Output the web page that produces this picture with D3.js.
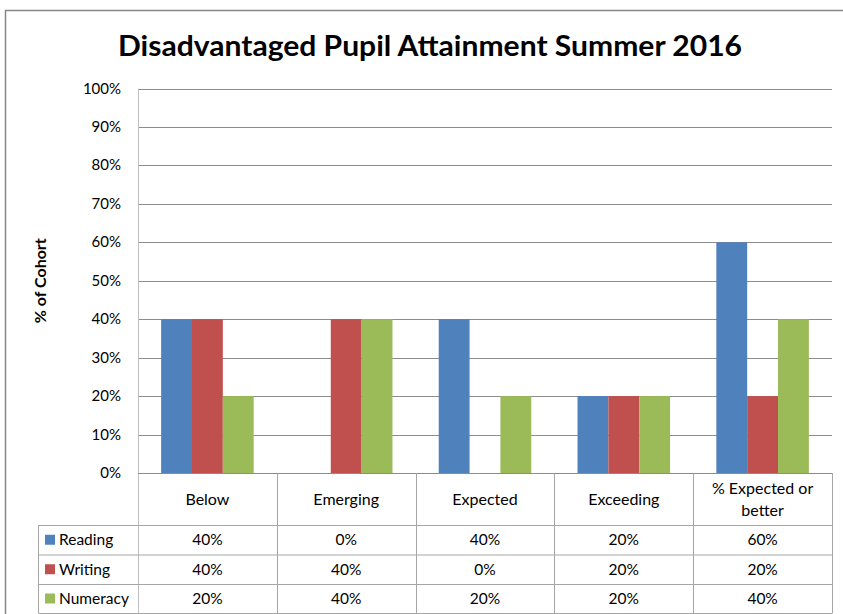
<!DOCTYPE html>
<html>
<head>
<meta charset="utf-8">
<script src="https://cdn.jsdelivr.net/npm/d3@7"></script>
<style>
  body { margin: 0; background: #fff; }
  text { font-family: Lato, "Open Sans", sans-serif; fill: #000; }
</style>
</head>
<body>
<div id="chart"></div>
<script>
const WIDTH = 843;
const HEIGHT = 614;
const PLOT = {left: 138, right: 832, top: 88.5, bottom: 473};

// chart data
const categories = ["Below", "Emerging", "Expected", "Exceeding", "% Expected or better"];
const seriesNames = ["Reading", "Writing", "Numeracy"];
const reading = [40, 0, 40, 20, 60];
const writing = [40, 40, 0, 20, 20];
const numeracy = [20, 40, 20, 20, 40];
const yTicks = [0, 10, 20, 30, 40, 50, 60, 70, 80, 90, 100];
const colors = ["#4F81BD", "#C0504D", "#9BBB59"];

const series = [reading, writing, numeracy];

const svg = d3.select("#chart")
  .append("svg")
    .attr("width", WIDTH)
    .attr("height", HEIGHT);

// outer chart border
svg.append("rect")
  .attr("x", 5.5).attr("y", 10.5)
  .attr("width", 900).attr("height", 700)
  .attr("fill", "none")
  .attr("stroke", "#878787")
  .attr("stroke-width", 1.5);

// title
svg.append("text")
  .attr("x", 430).attr("y", 56)
  .attr("text-anchor", "middle")
  .attr("font-size", 29)
  .attr("font-weight", "bold")
  .attr("textLength", 624)
  .attr("lengthAdjust", "spacingAndGlyphs")
  .text("Disadvantaged Pupil Attainment Summer 2016");

const y = d3.scaleLinear().domain([0, 100]).range([PLOT.bottom, PLOT.top]);
const x0 = d3.scaleBand().domain(categories)
  .range([PLOT.left, PLOT.right])
  .paddingInner(1 / 3).paddingOuter(1 / 6);
const x1 = d3.scaleBand().domain(seriesNames).range([0, x0.bandwidth()]);
const cat = d3.scaleBand().domain(categories).range([PLOT.left, PLOT.right]);

// gridlines
svg.append("g")
  .selectAll("line")
  .data(yTicks.filter(d => d > 0))
  .enter()
  .append("line")
    .attr("x1", PLOT.left).attr("x2", PLOT.right)
    .attr("y1", d => Math.round(y(d)) + 0.5)
    .attr("y2", d => Math.round(y(d)) + 0.5)
    .attr("stroke", "#8C8C8C");

// y tick labels
svg.append("g")
  .selectAll("text")
  .data(yTicks)
  .enter()
  .append("text")
    .attr("x", 121)
    .attr("y", d => y(d) + 5)
    .attr("text-anchor", "end")
    .attr("font-size", 15)
    .text(d => d + "%");

// y axis title
svg.append("text")
  .attr("transform", "translate(46," + ((PLOT.top + PLOT.bottom) / 2) + ") rotate(-90)")
  .attr("text-anchor", "middle")
  .attr("font-size", 16)
  .attr("font-weight", "bold")
  .text("% of Cohort");

// bars
svg.append("g")
  .selectAll("g")
  .data(categories)
  .enter()
  .append("g")
    .attr("transform", d => "translate(" + x0(d) + ",0)")
  .selectAll("rect")
  .data((d, i) => seriesNames.map((s, j) => ({s: s, v: series[j][i], c: colors[j]})))
  .enter()
  .append("rect")
    .attr("x", d => x1(d.s))
    .attr("y", d => y(d.v))
    .attr("width", x1.bandwidth())
    .attr("height", d => y(0) - y(d.v))
    .attr("fill", d => d.c);

// data table
const rowTops = [473, 525, 554.5, 584, 613];
const tableLeft = 38.5;
const grid = svg.append("g").attr("stroke", "#A6A6A6").attr("fill", "none");

// left axis line of the plot running into the table
grid.append("line")
  .attr("x1", PLOT.left + 0.5).attr("x2", PLOT.left + 0.5)
  .attr("y1", PLOT.top).attr("y2", 613)
  .attr("stroke", "#BFBFBF");

// horizontal table lines
grid.append("line")
  .attr("x1", PLOT.left).attr("x2", PLOT.right + 0.5)
  .attr("y1", rowTops[0] + 0.5).attr("y2", rowTops[0] + 0.5)
  .attr("stroke", "#8C8C8C");
grid.selectAll("line.h")
  .data(rowTops.slice(1))
  .enter()
  .append("line")
    .attr("class", "h")
    .attr("x1", tableLeft).attr("x2", PLOT.right + 0.5)
    .attr("y1", d => d + 0.5).attr("y2", d => d + 0.5);

// vertical table lines
grid.selectAll("line.v")
  .data(categories)
  .enter()
  .append("line")
    .attr("class", "v")
    .attr("x1", d => Math.round(cat(d) + cat.bandwidth()) + 0.5)
    .attr("x2", d => Math.round(cat(d) + cat.bandwidth()) + 0.5)
    .attr("y1", rowTops[0]).attr("y2", 613);
grid.append("line")
  .attr("x1", tableLeft).attr("x2", tableLeft)
  .attr("y1", rowTops[1]).attr("y2", 613);

// category labels
const catLabels = svg.append("g")
  .selectAll("text")
  .data(categories)
  .enter()
  .append("text")
    .attr("text-anchor", "middle")
    .attr("font-size", 16)
    .attr("x", d => cat(d) + cat.bandwidth() / 2);
catLabels.each(function(d) {
  const t = d3.select(this);
  if (d === "% Expected or better") {
    t.append("tspan").attr("x", cat(d) + cat.bandwidth() / 2).attr("y", 494).text("% Expected or");
    t.append("tspan").attr("x", cat(d) + cat.bandwidth() / 2).attr("y", 516).text("better");
  } else {
    t.attr("y", 505).text(d);
  }
});

// legend keys and series names
seriesNames.forEach((s, j) => {
  const mid = (rowTops[j + 1] + rowTops[j + 2]) / 2;
  svg.append("rect")
    .attr("x", 45).attr("y", mid - 5)
    .attr("width", 10).attr("height", 10)
    .attr("fill", colors[j]);
  svg.append("text")
    .attr("x", 59).attr("y", mid + 5.5)
    .attr("font-size", 15.5)
    .text(s);
  svg.append("g")
    .selectAll("text")
    .data(categories)
    .enter()
    .append("text")
      .attr("x", d => cat(d) + cat.bandwidth() / 2)
      .attr("y", mid + 5.5)
      .attr("text-anchor", "middle")
      .attr("font-size", 15.5)
      .text((d, i) => series[j][i] + "%");
});
</script>
</body>
</html>
